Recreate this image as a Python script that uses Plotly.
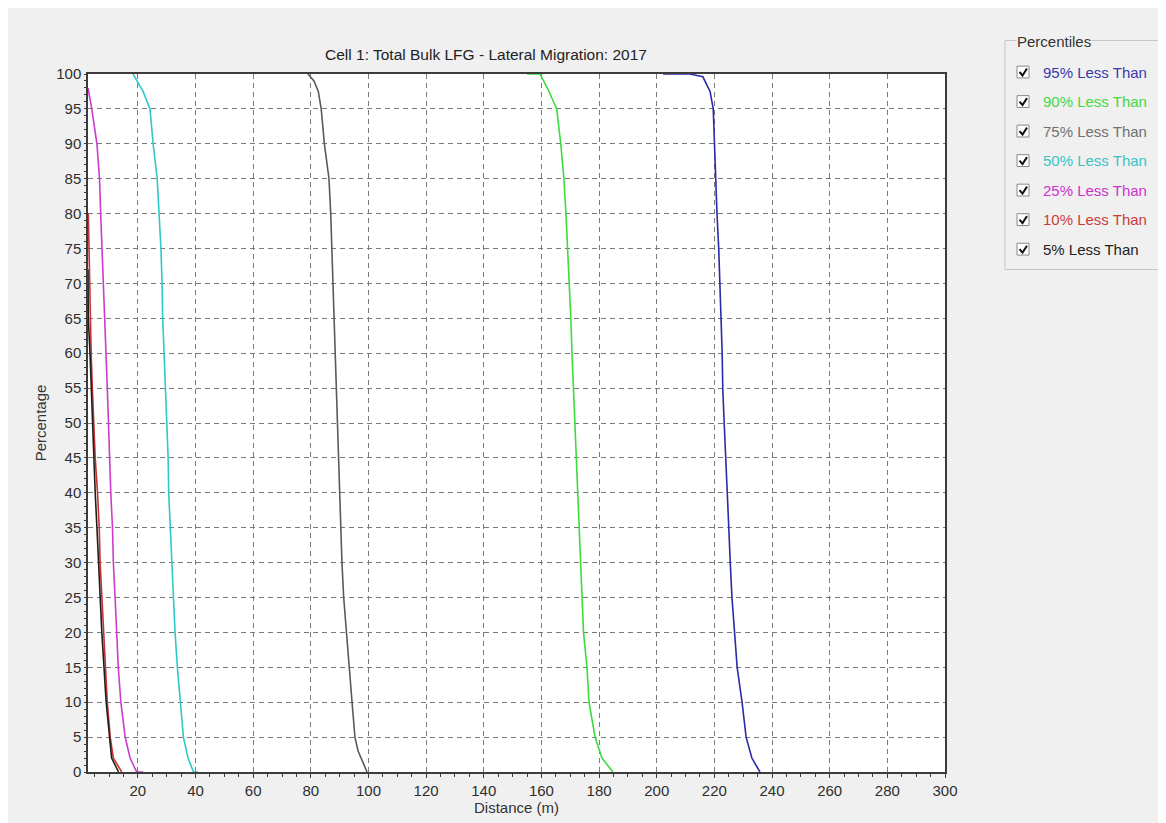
import plotly.graph_objects as go

# ---------------- data ----------------
series_names = ["95% Less Than", "90% Less Than", "75% Less Than", "50% Less Than",
                "25% Less Than", "10% Less Than", "5% Less Than"]
line_colors = ["#2b2ba8", "#3ddc3d", "#5a5a5a", "#30c8c8", "#cc3ccc", "#c83232", "#1e1e1e"]
text_colors = ["#3a3aaa", "#44d844", "#707070", "#38c4c4", "#cc33cc", "#cc3b3b", "#222222"]

p95_dist = [202.2, 211.5, 216.0, 218.5, 219.6, 220.0, 220.4, 220.9, 221.5, 222.0, 222.3, 222.7, 222.9,
            223.4, 224.0, 224.5, 225.0, 225.5, 226.1, 227.0, 227.9, 229.6, 231.0, 233.0, 235.8]
p95_pct = [100, 100, 99.6, 97.5, 95, 90, 85, 80, 75, 70, 65, 60, 55, 50, 45, 40, 35, 30, 25, 20, 15, 10, 5, 2, 0]

p90_dist = [155.0, 159.5, 162.4, 165.3, 166.7, 167.8, 168.5, 169.1, 169.7, 170.2, 170.6, 171.1, 171.5,
            172.0, 172.5, 172.9, 173.4, 173.9, 174.6, 175.8, 176.5, 178.6, 181.0, 184.8]
p90_pct = [100, 100, 97.7, 95, 90, 85, 80, 75, 70, 65, 60, 55, 50, 45, 40, 35, 30, 25, 20, 15, 10, 5, 2, 0]

p75_dist = [79.0, 81.1, 82.6, 83.6, 84.7, 86.3, 86.9, 87.3, 87.6, 88.0, 88.3, 88.8, 89.2, 89.6, 89.9,
            90.4, 90.8, 91.4, 92.3, 93.3, 94.3, 95.3, 96.4, 99.5]
p75_pct = [100, 99, 97.5, 95, 90, 85, 80, 75, 70, 65, 60, 55, 50, 45, 40, 35, 30, 25, 20, 15, 10, 5, 3, 0]

p50_dist = [18.3, 21.8, 24.2, 25.3, 26.7, 27.4, 28.0, 28.4, 28.6, 29.1, 29.6, 30.0, 30.5, 30.7, 31.2,
            31.8, 32.3, 32.9, 33.7, 34.7, 35.8, 37.4, 39.3, 40.9]
p50_pct = [100, 97.5, 95, 90, 85, 80, 75, 70, 65, 60, 55, 50, 45, 40, 35, 30, 25, 20, 15, 10, 5, 2, 0, 0]

p25_dist = [2.7, 4.0, 5.8, 6.7, 7.1, 7.6, 8.0, 8.6, 9.0, 9.4, 9.8, 10.1, 10.6, 11.2, 11.5, 12.1, 12.7,
            13.2, 14.1, 15.6, 17.3, 19.6, 21.8]
p25_pct = [98, 95, 90, 85, 80, 75, 70, 65, 60, 55, 50, 45, 40, 35, 30, 25, 20, 15, 10, 5, 2, 0, 0]

p10_dist = [2.8, 3.1, 3.4, 3.8, 4.2, 4.6, 5.2, 6.0, 6.6, 6.9, 7.5, 8.0, 8.6, 9.4, 10.4, 11.5, 14.4]
p10_pct = [80, 72, 65, 60, 55, 50, 45, 40, 35, 30, 25, 20, 15, 10, 5, 2, 0]

p5_dist = [2.7, 2.8, 3.4, 3.8, 4.2, 4.6, 5.2, 5.8, 6.3, 7.5, 9.0, 10.1, 10.9, 13.3]
p5_pct = [72, 65, 60, 55, 50, 45, 40, 35, 30, 20, 10, 5, 2, 0]

dists = [p95_dist, p90_dist, p75_dist, p50_dist, p25_dist, p10_dist, p5_dist]
pcts = [p95_pct, p90_pct, p75_pct, p50_pct, p25_pct, p10_pct, p5_pct]

title_text = "Cell 1: Total Bulk LFG - Lateral Migration: 2017"
x_title = "Distance (m)"
y_title = "Percentage"
legend_title = "Percentiles"

# ---------------- layout geometry ----------------
# the page body has an 8px margin, so the figure starts at (8, 8) in the window
OFF = 8
W, H = 1166 - OFF, 823 - OFF
L, R, T, B = 88, 945, 74, 781  # plot area in window pixels


def px(x):
    return (x - L) / (R - L)


def py(y):
    return (B - y) / (B - T)


fig = go.Figure()
for name, xs, ys, c in zip(series_names, dists, pcts, line_colors):
    fig.add_trace(go.Scatter(x=xs, y=ys, mode="lines", name=name,
                             line=dict(color=c, width=1.6), showlegend=False))

FONT = "Liberation Sans, Arial, sans-serif"
axis_common = dict(showline=True, mirror=True, linecolor="#3c3c3c", linewidth=1.5,
                   showgrid=True, gridcolor="#7a7a7a", gridwidth=1, griddash="5px,4px",
                   zeroline=False, ticks="outside", tickcolor="#3c3c3c",
                   tickfont=dict(family=FONT, size=15, color="#2e2e2e"))

fig.update_xaxes(range=[2.7, 300], dtick=20, tick0=0, ticklen=4,
                 minor=dict(dtick=5, ticks="outside", ticklen=3, tickcolor="#3c3c3c", showgrid=False),
                 title=dict(text=x_title, font=dict(family=FONT, size=15, color="#333333"), standoff=2),
                 **axis_common)
fig.update_yaxes(range=[0, 100], dtick=5, tick0=0, ticklen=2,
                 minor=dict(dtick=1, ticks="outside", ticklen=2, tickcolor="#3c3c3c", showgrid=False),
                 title=dict(text=y_title, font=dict(family=FONT, size=15, color="#333333"), standoff=6),
                 **axis_common)

shapes = []
annotations = []

# title
annotations.append(dict(text=title_text, xref="paper", yref="paper", x=px(486), y=py(54),
                        xanchor="center", yanchor="middle", showarrow=False,
                        font=dict(family=FONT, size=15.5, color="#222222")))

# legend group box
shapes.append(dict(type="rect", xref="paper", yref="paper", x0=px(1005), x1=px(1163),
                   y0=py(272), y1=py(40), line=dict(color="#c4c4c4", width=1), fillcolor="rgba(0,0,0,0)",
                   layer="above"))
annotations.append(dict(text=legend_title, xref="paper", yref="paper", x=px(1016), y=py(41),
                        xanchor="left", yanchor="middle", showarrow=False, bgcolor="#f0f0f0",
                        font=dict(family=FONT, size=15, color="#333333"), borderpad=0))

row_y0, row_step = 72, 29.9
for i, (name, tc) in enumerate(zip(series_names, text_colors)):
    ry = row_y0 + i * row_step
    shapes.append(dict(type="rect", xref="paper", yref="paper", x0=px(1017), x1=px(1029),
                       y0=py(ry + 6), y1=py(ry - 6), line=dict(color="#8a8a8a", width=1),
                       fillcolor="#ffffff", layer="above"))
    path = "M {:.5f},{:.5f} L {:.5f},{:.5f} L {:.5f},{:.5f}".format(
        px(1019.5), py(ry), px(1022.5), py(ry + 3.5), px(1027), py(ry - 3.5))
    shapes.append(dict(type="path", xref="paper", yref="paper", path=path,
                       line=dict(color="#111111", width=2), layer="above"))
    annotations.append(dict(text=name, xref="paper", yref="paper", x=px(1041), y=py(ry),
                            xanchor="left", yanchor="middle", showarrow=False,
                            font=dict(family=FONT, size=15, color=tc)))

fig.update_layout(width=W, height=H,
                  margin=dict(l=L - OFF, r=W - (R - OFF), t=T - OFF, b=H - (B - OFF)),
                  paper_bgcolor="#f0f0f0", plot_bgcolor="#ffffff",
                  shapes=shapes, annotations=annotations, showlegend=False,
                  font=dict(family=FONT))

fig.write_html("out.html")
